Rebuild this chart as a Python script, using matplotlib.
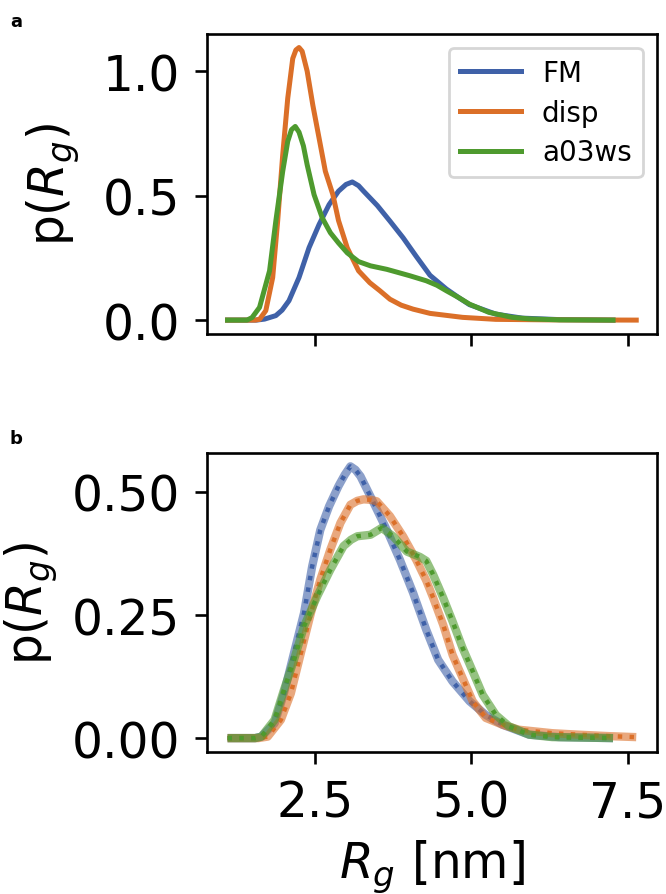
import numpy as np
import matplotlib
matplotlib.use("Agg")
import matplotlib.pyplot as plt

# colours
c_fm = "#3f61a8"
c_disp = "#db6f28"
c_a03 = "#4e9a2e"

# ---- panel a ----
fm_a_x = [1.11, 1.57, 1.70, 1.88, 1.98, 2.09, 2.25, 2.41, 2.57, 2.73, 2.88,
          3.00, 3.10, 3.20, 3.28, 3.50, 3.70, 3.91, 4.12, 4.34, 4.60, 4.80,
          4.97, 5.39, 5.81, 6.40, 7.26]
fm_a_y = [0.0, 0.0, 0.004, 0.018, 0.040, 0.078, 0.171, 0.291, 0.384, 0.464,
          0.518, 0.545, 0.555, 0.54, 0.518, 0.46, 0.398, 0.331, 0.256, 0.18,
          0.125, 0.09, 0.062, 0.024, 0.008, 0.002, 0.0]

disp_a_x = [1.11, 1.55, 1.62, 1.72, 1.83, 1.91, 1.99, 2.07, 2.15, 2.20, 2.25,
            2.30, 2.38, 2.47, 2.57, 2.67, 2.79, 2.88, 3.02, 3.20, 3.38, 3.54,
            3.70, 3.88, 4.07, 4.34, 4.86, 5.39, 6.20, 7.63]
disp_a_y = [0.0, 0.0, 0.003, 0.038, 0.171, 0.40, 0.664, 0.891, 1.051, 1.085,
            1.095, 1.08, 1.0, 0.864, 0.731, 0.598, 0.504, 0.40, 0.29, 0.198,
            0.15, 0.118, 0.084, 0.06, 0.044, 0.027, 0.011, 0.003, 0.001, 0.0]

a03_a_x = [1.11, 1.42, 1.50, 1.62, 1.78, 1.88, 1.99, 2.07, 2.13, 2.19, 2.25,
           2.32, 2.38, 2.49, 2.62, 2.75, 2.88, 3.02, 3.20, 3.39, 3.65, 3.85,
           4.02, 4.28, 4.45, 4.60, 4.80, 4.97, 5.28, 5.65, 5.92, 6.40, 7.26]
a03_a_y = [0.0, 0.0, 0.01, 0.051, 0.198, 0.398, 0.598, 0.718, 0.765, 0.778,
           0.755, 0.70, 0.624, 0.504, 0.411, 0.351, 0.31, 0.27, 0.235, 0.218,
           0.204, 0.19, 0.178, 0.158, 0.14, 0.118, 0.09, 0.064, 0.031, 0.011,
           0.005, 0.001, 0.0]

# ---- panel b ----
fm_b_x = [1.11, 1.55, 1.65, 1.86, 2.01, 2.17, 2.33, 2.46, 2.59, 2.73, 2.88,
          2.98, 3.07, 3.15, 3.23, 3.44, 3.65, 3.86, 4.07, 4.28, 4.47, 4.70,
          4.97, 5.23, 5.50, 5.92, 6.40, 7.26]
fm_b_y = [0.0, 0.0, 0.003, 0.030, 0.091, 0.173, 0.254, 0.349, 0.423, 0.471,
          0.512, 0.535, 0.552, 0.545, 0.532, 0.478, 0.423, 0.362, 0.295, 0.22,
          0.159, 0.115, 0.075, 0.047, 0.027, 0.007, 0.002, 0.0]

disp_b_x = [1.11, 1.60, 1.75, 1.96, 2.12, 2.28, 2.44, 2.59, 2.75, 2.91, 3.07,
            3.18, 3.28, 3.40, 3.49, 3.70, 3.91, 4.12, 4.28, 4.39, 4.55, 4.70,
            4.86, 5.02, 5.23, 5.50, 5.76, 6.29, 6.71, 7.20, 7.63]
disp_b_y = [0.0, 0.0, 0.003, 0.037, 0.091, 0.173, 0.254, 0.322, 0.383, 0.437,
            0.474, 0.482, 0.485, 0.484, 0.481, 0.451, 0.41, 0.362, 0.32, 0.285,
            0.23, 0.169, 0.122, 0.075, 0.041, 0.027, 0.017, 0.010, 0.007,
            0.004, 0.002]

a03_b_x = [1.11, 1.55, 1.65, 1.86, 2.01, 2.17, 2.33, 2.54, 2.75, 2.96, 3.08,
           3.18, 3.39, 3.57, 3.75, 3.97, 4.18, 4.28, 4.39, 4.55, 4.70, 4.86,
           5.02, 5.18, 5.39, 5.60, 5.92, 6.29, 7.26]
a03_b_y = [0.0, 0.0, 0.003, 0.037, 0.098, 0.159, 0.227, 0.288, 0.342, 0.39,
           0.403, 0.41, 0.413, 0.427, 0.41, 0.379, 0.368, 0.36, 0.332, 0.285,
           0.237, 0.183, 0.136, 0.088, 0.047, 0.024, 0.007, 0.002, 0.0]

plt.rcParams["font.family"] = "DejaVu Sans"
plt.rcParams["mathtext.fontset"] = "dejavusans"

fig = plt.figure(figsize=(6.66, 8.95), dpi=100)
ax1 = fig.add_axes([0.311, 0.626, 0.675, 0.335])
ax2 = fig.add_axes([0.311, 0.159, 0.675, 0.334], sharex=ax1)

lw = 3.6
ax1.plot(fm_a_x, fm_a_y, color=c_fm, lw=lw, label="FM")
ax1.plot(disp_a_x, disp_a_y, color=c_disp, lw=lw, label="disp")
ax1.plot(a03_a_x, a03_a_y, color=c_a03, lw=lw, label="a03ws")

for x, y, c in [(fm_b_x, fm_b_y, c_fm), (disp_b_x, disp_b_y, c_disp),
                (a03_b_x, a03_b_y, c_a03)]:
    ax2.plot(x, y, color=c, lw=6, alpha=0.6, solid_capstyle="butt")
    ax2.plot(x, y, color=c, lw=3.2, ls=":")

for ax, lp in ((ax1, 15), (ax2, 8)):
    for s in ax.spines.values():
        s.set_linewidth(1.9)
    ax.tick_params(labelsize=35, width=1.9, length=8.5, pad=11)
    ax.set_ylabel(r"p($R_g$)", fontsize=35, labelpad=lp)

ax1.set_yticks([0.0, 0.5, 1.0])
ax2.set_yticks([0.0, 0.25, 0.5])
ax2.set_xticks([2.5, 5.0, 7.5])
ax1.tick_params(labelbottom=False)
ax2.set_xlabel(r"$R_g$ [nm]", fontsize=35, labelpad=8)

leg = ax1.legend(fontsize=20, loc="upper right", handlelength=2.2,
                 borderpad=0.4, labelspacing=0.42, handletextpad=0.75,
                 fancybox=True, framealpha=0.8)
leg.get_frame().set_linewidth(2.0)

fig.text(0.015, 0.975, "a", fontsize=13, fontweight="bold", va="center")
fig.text(0.015, 0.510, "b", fontsize=13, fontweight="bold", va="center")

fig.savefig("out.png", dpi=100)
